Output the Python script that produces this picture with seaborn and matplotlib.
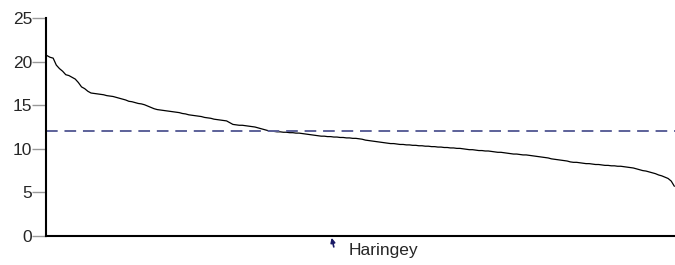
import numpy as np
import pandas as pd
import seaborn as sns
import matplotlib.pyplot as plt

# values, ranked high -> low
rates = [
    20.7, 20.5, 20.4, 19.6, 19.2, 18.9, 18.5, 18.4, 18.2, 18.0,
    17.6, 17.1, 16.9, 16.6, 16.4, 16.35, 16.3, 16.25, 16.2, 16.1,
    16.05, 16.0, 15.9, 15.8, 15.7, 15.6, 15.45, 15.4, 15.3, 15.2,
    15.15, 15.05, 14.9, 14.75, 14.6, 14.5, 14.45, 14.4, 14.35, 14.3,
    14.25, 14.2, 14.15, 14.05, 14.0, 13.9, 13.85, 13.8, 13.75, 13.7,
    13.6, 13.55, 13.5, 13.4, 13.35, 13.3, 13.25, 13.2, 13.0, 12.8,
    12.75, 12.7, 12.7, 12.65, 12.6, 12.55, 12.5, 12.4, 12.3, 12.2,
    12.1, 12.05, 12.0, 11.95, 11.95, 11.9, 11.9, 11.85, 11.85, 11.8,
    11.8, 11.75, 11.7, 11.65, 11.6, 11.55, 11.5, 11.45, 11.45, 11.4,
    11.4, 11.35, 11.35, 11.3, 11.3, 11.25, 11.25, 11.2, 11.2, 11.15,
    11.1, 11.0, 10.95, 10.9, 10.85, 10.8, 10.75, 10.7, 10.65, 10.6,
    10.6, 10.55, 10.5, 10.5, 10.45, 10.45, 10.4, 10.4, 10.35, 10.35,
    10.3, 10.3, 10.25, 10.25, 10.2, 10.2, 10.15, 10.15, 10.1, 10.1,
    10.05, 10.05, 10.0, 9.95, 9.9, 9.9, 9.85, 9.8, 9.8, 9.75,
    9.75, 9.7, 9.65, 9.6, 9.6, 9.55, 9.5, 9.45, 9.4, 9.4,
    9.35, 9.3, 9.3, 9.25, 9.2, 9.15, 9.1, 9.05, 9.0, 8.95,
    8.85, 8.8, 8.75, 8.7, 8.65, 8.6, 8.5, 8.45, 8.45, 8.4,
    8.35, 8.3, 8.3, 8.25, 8.2, 8.2, 8.15, 8.1, 8.1, 8.05,
    8.05, 8.0, 8.0, 7.95, 7.9, 7.85, 7.8, 7.7, 7.6, 7.5,
    7.45, 7.35, 7.25, 7.15, 7.0, 6.9, 6.75, 6.6, 6.3, 5.7,
]
average = 12.0
highlight_name = "Haringey"
highlight_rank = 91
yticks = [0, 5, 10, 15, 20, 25]

df = pd.DataFrame({"rank": np.arange(len(rates)), "rate": rates})

sns.set_style("white")
plt.rcParams["font.family"] = ["Liberation Sans", "DejaVu Sans"]

fig = plt.figure(figsize=(6.75, 2.65), dpi=100)
ax = fig.add_axes([0.068, 0.1094, 0.932, 0.8226])

sns.lineplot(data=df, x="rank", y="rate", color="black", linewidth=0.9, ax=ax)
ax.axhline(average, color="#5c6199", linewidth=1.4, dashes=(6, 3.5))

ax.set_xlim(-0.3, len(rates) - 0.8)
ax.set_ylim(0, 25)
ax.set_yticks(yticks)
ax.set_xticks([])
ax.set_xlabel("")
ax.set_ylabel("")
ax.tick_params(axis="y", direction="out", length=10, width=1, color="#999999",
               labelsize=12.5, pad=0, left=True)

for side in ["top", "right"]:
    ax.spines[side].set_visible(False)
for side in ["left", "bottom"]:
    ax.spines[side].set_color("black")
    ax.spines[side].set_linewidth(1.5)

# arrow pointing up at the highlighted authority
ax.annotate("", xy=(highlight_rank - 0.7, -0.2), xytext=(highlight_rank, -1.25),
            arrowprops=dict(arrowstyle="-|>,head_length=0.45,head_width=0.22",
                            color="#1a1a66", lw=1.2, mutation_scale=6,
                            shrinkA=0, shrinkB=0),
            annotation_clip=False)
ax.annotate(highlight_name, xy=(highlight_rank, 0), xytext=(11, -10.5),
            textcoords="offset points", fontsize=12.5, va="center", ha="left",
            annotation_clip=False)

fig.savefig("out.png", dpi=100)
